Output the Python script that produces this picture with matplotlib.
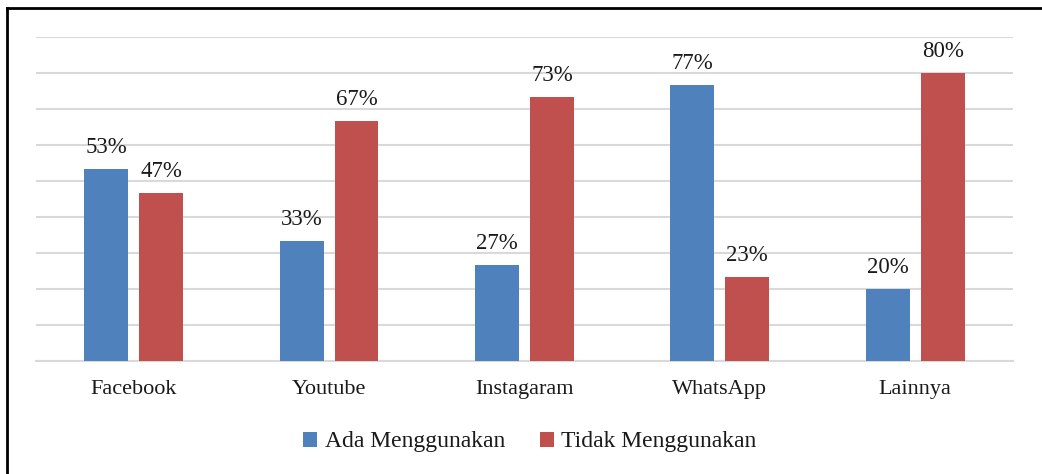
import matplotlib.pyplot as plt
import numpy as np
from matplotlib.lines import Line2D

categories = ['Facebook', 'Youtube', 'Instagaram', 'WhatsApp', 'Lainnya']
ada = [53.3, 33.3, 26.7, 76.7, 20.0]
tidak = [46.7, 66.7, 73.3, 23.3, 80.0]
series_names = ['Ada Menggunakan', 'Tidak Menggunakan']

plt.rcParams['font.family'] = ['Liberation Serif', 'DejaVu Serif']

fig = plt.figure(figsize=(10.42, 4.74), dpi=100)
ax = fig.add_axes([0.0345, 0.2384, 0.9376, 0.6835])

x = np.arange(len(categories))
w = 0.225
gap = 0.056
off = (w + gap) / 2
b1 = ax.bar(x - off, ada, w, color='#4F81BD', label=series_names[0], zorder=3)
b2 = ax.bar(x + off, tidak, w, color='#C0504D', label=series_names[1], zorder=3)

for bars in (b1, b2):
    for r in bars:
        ax.annotate(f'{r.get_height():.0f}%', (r.get_x() + r.get_width() / 2, r.get_height()),
                    xytext=(0, 8), textcoords='offset points', ha='center', va='bottom',
                    fontsize=16.5, color='#1a1a1a')

ax.set_xlim(-0.5, len(categories) - 0.5)
ax.set_ylim(0, 90)
ax.set_yticks(np.arange(0, 91, 10))
ax.set_yticklabels([])
ax.tick_params(axis='y', length=0)
ax.tick_params(axis='x', length=0, pad=14, labelsize=16, labelcolor='#1a1a1a')
ax.set_xticks(x)
ax.set_xticklabels(categories)
ax.grid(axis='y', color='#D9D9D9', linewidth=1.5, zorder=0)
for s in ['top', 'right', 'left']:
    ax.spines[s].set_visible(False)
ax.spines['bottom'].set_color('#D9D9D9')
ax.spines['bottom'].set_linewidth(1.5)

ax.legend(loc='center', ncol=2, frameon=False, fontsize=17, handlelength=0.6,
          handleheight=0.6, handletextpad=0.3, columnspacing=1.5)
leg = ax.get_legend()
for t in leg.get_texts():
    t.set_color('#1a1a1a')
leg.set_bbox_to_anchor((0.5086, 1 - 442 / 474), transform=fig.transFigure)

# outer frame (left and top edges visible)
fx = 7 / 1042
fy = 1 - 8 / 474
fig.add_artist(Line2D([fx, fx], [0, fy], transform=fig.transFigure, color='black', linewidth=2))
fig.add_artist(Line2D([fx, 1], [fy, fy], transform=fig.transFigure, color='black', linewidth=2))

fig.savefig('out.png', dpi=100)
